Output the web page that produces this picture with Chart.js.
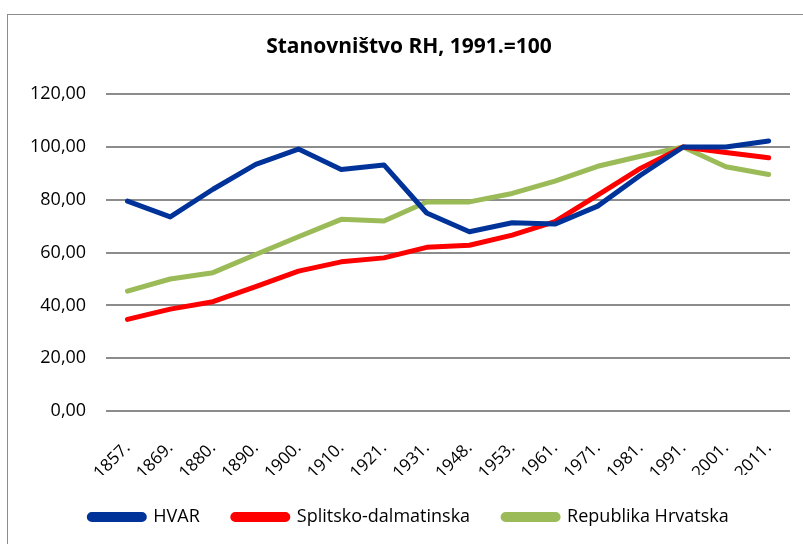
<!DOCTYPE html>
<html>
<head>
<meta charset="utf-8">
<script src="https://cdn.jsdelivr.net/npm/chart.js@4"></script>
<style>
  html, body { margin: 0; padding: 0; background: #fff; }
  #wrap { position: relative; width: 803px; height: 544px; overflow: hidden; }
  #frame { position: absolute; left: 7px; top: 14px; width: 840px; height: 560px; border: 1px solid #8c8c8c; box-sizing: border-box; }
  canvas { position: absolute; left: 0; top: 0; }
</style>
</head>
<body>
<div id="wrap">
  <div id="frame"></div>
  <canvas id="chart" width="820" height="544"></canvas>
</div>
<script>
// Stanovništvo RH, indeks 1991.=100

const godine = ['1857.', '1869.', '1880.', '1890.', '1900.', '1910.', '1921.', '1931.',
  '1948.', '1953.', '1961.', '1971.', '1981.', '1991.', '2001.', '2011.'];

const hvar = [79.5, 73.5, 84.0, 93.4, 99.2, 91.5, 93.2, 75.0,
  67.9, 71.3, 70.8, 77.6, 89.3, 100, 100, 102.3];

const splitskoDalmatinska = [34.7, 38.6, 41.4, 47.1, 53.0, 56.5, 58.0, 62.0,
  62.8, 66.6, 71.7, 81.8, 91.9, 100, 97.9, 95.9];

const republikaHrvatska = [45.4, 50.0, 52.4, 59.3, 66.0, 72.6, 72.0, 79.2,
  79.2, 82.4, 87.1, 92.7, 96.5, 100, 92.5, 89.6];

const FONT = "'Open Sans', 'Noto Sans', sans-serif";

function serija(label, data, boja) {
  return {
    label,
    data,
    borderColor: boja,
    backgroundColor: boja,
    borderWidth: 5,
    pointRadius: 0,
    tension: 0,
    borderCapStyle: 'round',
    borderJoinStyle: 'round'
  };
}

new Chart(document.getElementById('chart'), {
  type: 'line',
  data: {
    labels: godine,
    datasets: [
      serija('HVAR', hvar, '#003399'),
      serija('Splitsko-dalmatinska', splitskoDalmatinska, '#ff0000'),
      serija('Republika Hrvatska', republikaHrvatska, '#9bbb59')
    ]
  },
  options: {
    responsive: false,
    animation: false,
    layout: { padding: { left: 10, right: 12, top: 26, bottom: 8 } },
    plugins: {
      title: {
        display: true,
        text: 'Stanovništvo RH, 1991.=100',
        color: '#000',
        font: { family: FONT, size: 21, weight: 'bold' },
        padding: { top: 8, bottom: 35 }
      },
      legend: {
        position: 'bottom',
        labels: {
          color: '#000',
          font: { family: FONT, size: 18 },
          boxWidth: 55,
          boxHeight: 5,
          useBorderRadius: true,
          borderRadius: 2.5,
          padding: 33
        }
      },
      tooltip: { enabled: false }
    },
    scales: {
      x: {
        offset: true,
        grid: { display: false, drawTicks: false },
        border: { display: false },
        afterFit: s => { s.height = 64; s.paddingRight = 30; },
        ticks: {
          color: '#000',
          font: { family: FONT, size: 17 },
          maxRotation: 45,
          minRotation: 45,
          autoSkip: false,
          padding: 27
        }
      },
      y: {
        min: 0,
        max: 120,
        grid: { color: '#8c8c8c', lineWidth: 2, drawTicks: false },
        border: { display: false },
        ticks: {
          stepSize: 20,
          color: '#000',
          font: { family: FONT, size: 18 },
          padding: 20,
          callback: v => v.toFixed(2).replace('.', ',')
        }
      }
    }
  }
});
</script>
</body>
</html>
